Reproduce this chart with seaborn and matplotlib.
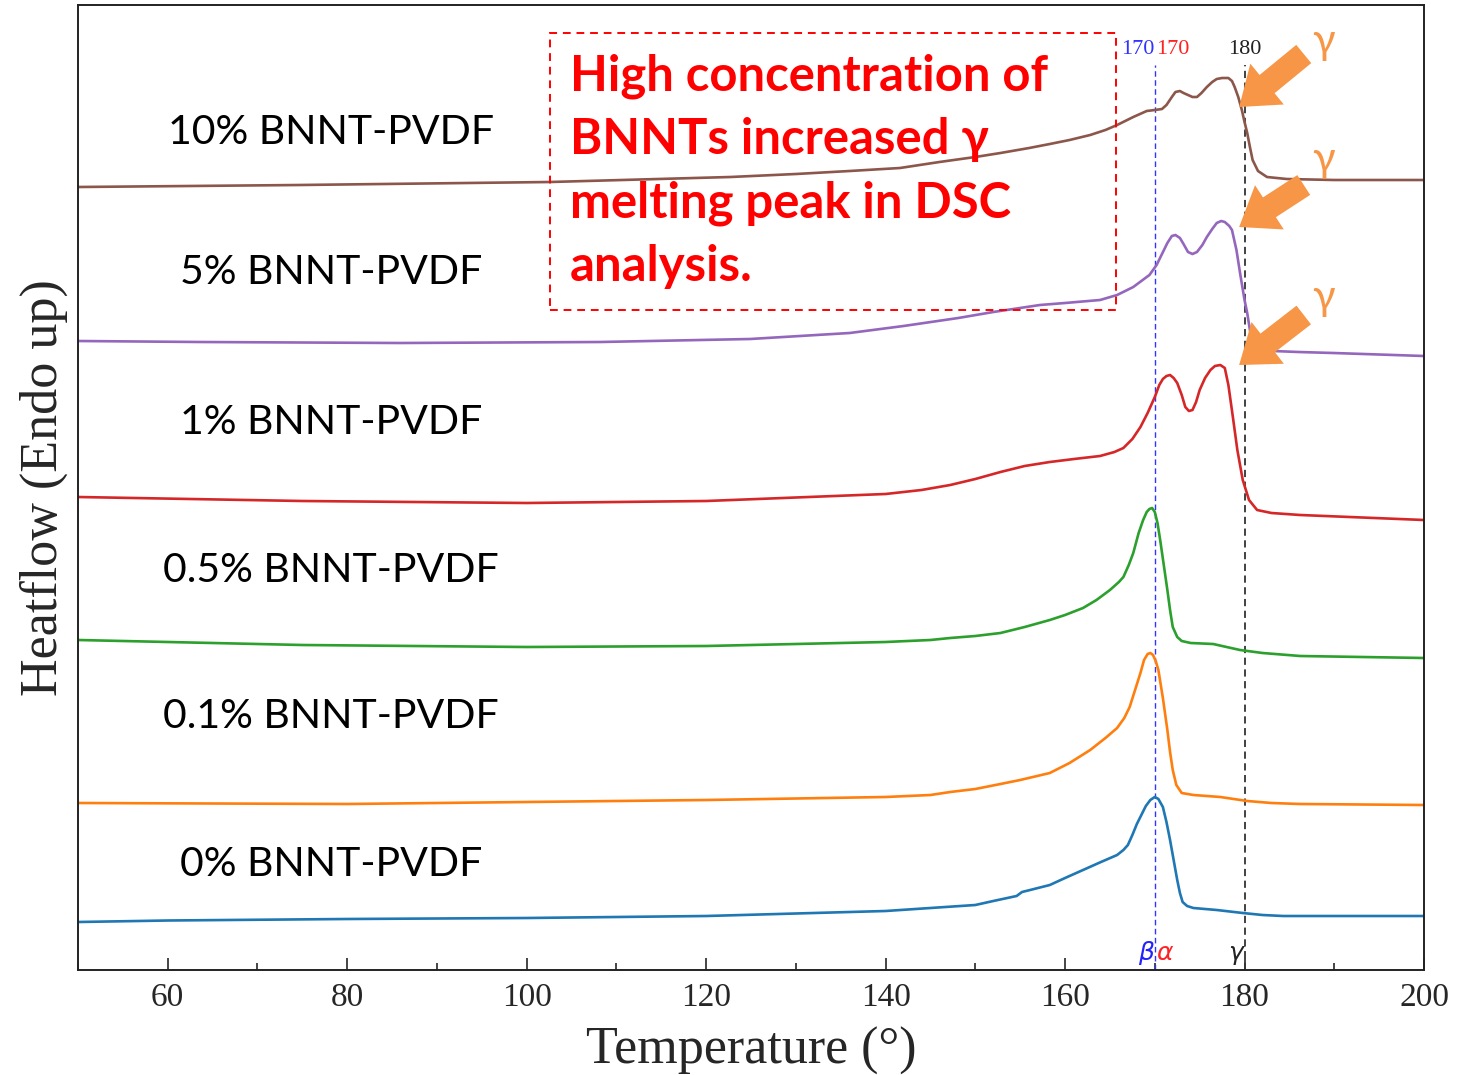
import numpy as np
import pandas as pd
import matplotlib
matplotlib.use("Agg")
import matplotlib.pyplot as plt
from matplotlib.patches import Rectangle
from matplotlib.ticker import MultipleLocator
import seaborn as sns

# ---------------- data (temperature in deg, heat flow in arbitrary units) ----------------
t_0 = [50, 60, 80, 100, 120, 140, 145, 150, 152, 154.6, 155.2, 156.1, 158.3, 160, 162, 164, 165.8,
       166.5, 167.0, 167.5, 168.0, 168.5, 169.0, 169.5, 170.0, 170.4, 170.9, 171.3, 171.7, 172.1,
       172.5, 172.8, 173.1, 173.6, 174.3, 176.9, 179.8, 182, 184.3, 200]
hf_0 = [48, 49.5, 51, 52, 54, 59, 62, 65, 69, 74, 78, 80, 85, 92, 100, 108, 115,
        120, 125, 135, 146, 155, 164, 170, 173, 171, 163, 148, 130, 110,
        90, 77, 68, 64, 62, 60, 57, 55, 54, 54]

t_01 = [50, 80, 100, 120, 140, 145, 147.2, 150, 152.8, 155, 158.3, 160.5, 162.8, 164.5, 165.8, 166.6,
        167.2, 167.8, 168.4, 168.8, 169.2, 169.5, 169.8, 170.1, 170.4, 170.9, 171.4, 171.7, 172.0,
        172.4, 173.0, 174.3, 177.3, 180.3, 183, 186.2, 200]
hf_01 = [167, 166, 168, 170, 173, 175, 178, 181, 186, 190, 197, 207, 220, 232, 242, 252,
         263, 280, 297, 310, 316, 317, 315, 309, 300, 272, 240, 218, 200,
         185, 177, 175, 173, 169, 167, 166, 165]

t_05 = [50, 75, 100, 120, 140, 145, 147.2, 150, 152.8, 155.5, 158.3, 160, 162.0, 163.5, 165.0, 166.0,
        166.5, 167.1, 167.6, 168.2, 168.7, 169.1, 169.4, 169.7, 170.0, 170.3, 170.6, 171.0, 171.4,
        171.7, 172.0, 172.5, 173.0, 174, 176.5, 178, 179.5, 182, 186.2, 200]
hf_05 = [330, 325, 323, 324, 328, 330, 332, 334, 337, 343, 350, 355, 362, 370, 380, 388,
         393, 405, 417, 437, 450, 458, 461, 462, 458, 447, 430, 405, 380,
         360, 343, 333, 329, 327, 326, 323, 320, 317, 314, 312]

t_1 = [50, 75, 100, 120, 140, 144, 147.2, 150, 152.8, 155.5, 158.3, 161, 163.9, 165.5, 166.5, 167.5,
       168.4, 169.2, 170.0, 170.5, 170.9, 171.3, 171.7, 172.1, 172.5, 173.0, 173.4, 173.8, 174.2,
       174.6, 175.0, 175.6, 176.2, 176.7, 177.3, 177.8, 178.2, 178.7, 179.2, 179.8, 180.5, 181.4,
       183, 186.2, 200]
hf_1 = [473, 469, 467, 469, 476, 480, 485, 491, 498, 504, 508, 511, 514, 518, 522, 531,
        543, 557, 573, 585, 591, 594, 595, 592, 587, 575, 563, 559, 560,
        568, 580, 592, 600, 604, 605, 602, 585, 553, 520, 490, 470, 460,
        457, 455, 450]

t_5 = [50, 63.6, 85.9, 108.2, 124.9, 136.0, 142, 148.1, 152, 157.2, 160, 163.9, 165.8, 167.6, 169.4,
       170.2, 170.8, 171.4, 171.9, 172.3, 172.8, 173.2, 173.7, 174.2, 174.7, 175.3, 175.8, 176.4,
       176.9, 177.4, 177.8, 178.3, 178.6, 179.1, 179.5, 180.0, 180.3, 180.6, 180.9, 181.5, 183.2,
       186, 189.9, 200]
hf_5 = [629, 628, 627, 628, 631, 637, 644, 652, 658, 665, 667, 670, 675, 683, 695,
        705, 716, 727, 734, 735, 732, 726, 718, 716, 718, 725, 733, 741,
        747, 749, 748, 744, 740, 720, 697, 670, 657, 640, 627, 622, 619,
        618, 617, 614]

t_10 = [50, 74.7, 102.6, 122.7, 130, 136, 141.6, 146, 150, 152.8, 156, 158.3, 160.5, 162.8, 164.5,
        165.8, 167.6, 169.1, 170.0, 170.8, 171.3, 171.9, 172.3, 172.8, 173.2, 173.7, 174.2, 174.7,
        175.2, 175.8, 176.4, 176.9, 177.5, 178.2, 178.6, 178.9, 179.3, 179.7, 180.0, 180.3, 180.6,
        180.9, 181.5, 182.5, 184.7, 190, 200]
hf_10 = [783, 785, 788, 793, 796, 799, 802, 808, 813, 817, 822, 826, 830, 835, 840,
         845, 853, 859, 860, 861, 865, 873, 878, 879, 877, 875, 873, 873,
         877, 883, 888, 891, 892, 892, 889, 883, 873, 860, 848, 837, 823,
         810, 799, 793, 791, 790, 790]

series_names = ["0% BNNT-PVDF", "0.1% BNNT-PVDF", "0.5% BNNT-PVDF",
                "1% BNNT-PVDF", "5% BNNT-PVDF", "10% BNNT-PVDF"]
series_t = [t_0, t_01, t_05, t_1, t_5, t_10]
series_hf = [hf_0, hf_01, hf_05, hf_1, hf_5, hf_10]
label_hf = [105, 253, 400, 548, 697, 838]
label_t = 78.2

x_ticks = [60, 80, 100, 120, 140, 160, 180, 200]
note_lines = ["High concentration of", "BNNTs increased \u03b3", "melting peak in DSC", "analysis."]

# ---------------- build table ----------------
frames = []
for name, t, hf in zip(series_names, series_t, series_hf):
    frames.append(pd.DataFrame({"T": t, "HF": hf, "sample": name}))
df = pd.concat(frames, ignore_index=True)

sns.set_style("white")
plt.rcParams["font.family"] = ["Liberation Serif", "DejaVu Serif"]

fig = plt.figure(figsize=(14.59, 10.75), dpi=100)
ax = fig.add_axes([78 / 1459, 105 / 1075, 1346 / 1459, 965 / 1075])

palette = sns.color_palette("tab10", 6)
sns.lineplot(data=df, x="T", y="HF", hue="sample", hue_order=series_names,
             palette=palette, sort=False, estimator=None, linewidth=1.9,
             legend=False, ax=ax)
for ln in ax.lines:
    ln.set_solid_joinstyle("round")
    ln.set_solid_capstyle("round")

ax.set_xlim(50, 200)
ax.set_ylim(0, 965)

# reference vertical lines
ax.plot([170, 170], [0, 905], color="#3333ff", lw=1.0, ls=(0, (4, 2.5)), zorder=1)
ax.plot([180, 180], [0, 905], color="#333333", lw=1.3, ls=(0, (4, 2.5)), zorder=1)

ax.text(170, 920, "170", color="#3333ff", fontsize=16, ha="right", va="center")
ax.text(170.2, 920, "170", color="#ff2222", fontsize=16, ha="left", va="center")
ax.text(180, 920, "180", color="#222222", fontsize=16, ha="center", va="center")

ax.text(169.9, 17, "\u03b2", color="#2222ff", fontsize=18, style="italic",
        ha="right", va="center", family="DejaVu Sans")
ax.text(170.2, 17, "\u03b1", color="#ff2222", fontsize=18, style="italic",
        ha="left", va="center", family="DejaVu Sans")
ax.text(179.8, 17, "\u03b3", color="#222222", fontsize=18, style="italic",
        ha="right", va="center", family="DejaVu Sans")

# sample labels
for name, yv in zip(series_names, label_hf):
    ax.text(label_t, yv, name, fontsize=29.5, ha="center", va="center",
            family=["Lato", "DejaVu Sans"], color="black")

# orange arrows and gamma labels
arrow_color = "#f79646"
for tip_hf, tail_hf, g_hf in [(863, 916, 928), (743, 785, 810), (605, 655, 672)]:
    ax.annotate("", xy=(179.4, tip_hf), xytext=(186.6, tail_hf),
                arrowprops=dict(arrowstyle="simple,head_length=1.3,head_width=1.9,tail_width=0.85",
                                color=arrow_color, mutation_scale=20, shrinkA=0, shrinkB=0, lw=0))
    ax.text(188.8, g_hf, "\u03b3", color=arrow_color, fontsize=30,
            ha="center", va="center", family=["Lato", "DejaVu Sans"])

# dashed note box
box = Rectangle((0.3507, 0.684), 0.4205, 0.287, transform=ax.transAxes, fill=False,
                edgecolor="#ff0000", lw=1.4, ls=(0, (4, 3)), zorder=5)
ax.add_patch(box)
for line, yf in zip(note_lines, [0.9264, 0.8611, 0.7948, 0.7285]):
    ax.text(0.3655, yf, line, transform=ax.transAxes, color="#ff0000", fontsize=35.3,
            fontweight="bold", ha="left", va="center", family=["Lato", "DejaVu Sans"])

# axes styling
ax.set_xticks(x_ticks)
ax.xaxis.set_minor_locator(MultipleLocator(10))
ax.set_yticks([])
ax.tick_params(axis="x", which="major", direction="in", length=9, width=1.2,
               labelsize=24, pad=9, bottom=True, top=False)
ax.tick_params(axis="x", which="minor", direction="in", length=5, width=1.2,
               bottom=True, top=False)
for sp in ax.spines.values():
    sp.set_visible(True)
    sp.set_color("#222222")
    sp.set_linewidth(1.4)

ax.set_xlabel("Temperature (\u00b0)", fontsize=37.5, labelpad=10)
ax.set_ylabel("Heatflow (Endo up)", fontsize=37.5, labelpad=7)

fig.savefig("out.png", dpi=100)
